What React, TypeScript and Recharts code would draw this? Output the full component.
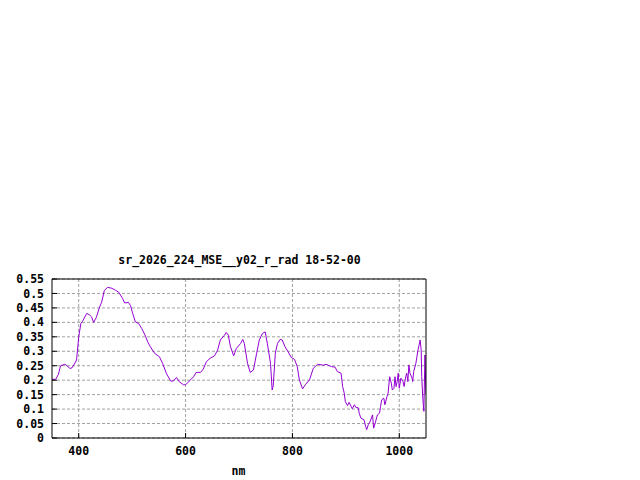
import React from "react";
import {
  LineChart,
  Line,
  XAxis,
  YAxis,
  CartesianGrid,
} from "recharts";

const title = "sr_2026_224_MSE__y02_r_rad 18-52-00";
const xLabel = "nm";

const wavelengths = [
  350, 357, 362, 366, 374, 379, 383, 387, 392, 396, 400, 404, 407, 415, 420,
  424, 428, 433, 439, 443, 448, 454, 462, 469, 475, 482, 486, 493, 497, 501,
  506, 512, 518, 525, 529, 534, 542, 551, 557, 564, 572, 577, 583, 588, 596,
  600, 607, 615, 620, 628, 633, 639, 646, 654, 660, 665, 673, 676, 680, 684,
  690, 695, 703, 707, 710, 716, 721, 727, 733, 738, 744, 749, 753, 759, 762,
  764, 768, 772, 777, 781, 786, 792, 798, 804, 809, 813, 819, 824, 832, 839,
  847, 858, 863, 873, 880, 884, 891, 894, 897, 899, 903, 906, 910, 912, 916,
  919, 923, 925, 928, 934, 937, 939, 942, 945, 950, 952, 955, 959, 963, 965,
  967, 971, 973, 977, 979, 982, 985, 987, 990, 992, 994, 996, 998, 1000, 1003,
  1007, 1009, 1012, 1014, 1016, 1018, 1020, 1024, 1025, 1027, 1031, 1033,
  1035, 1037, 1039, 1041, 1042, 1044, 1046, 1048, 1050,
];

const radiance = [
  0.203, 0.203, 0.22, 0.25, 0.255, 0.249, 0.241, 0.242, 0.256, 0.27, 0.35,
  0.396, 0.403, 0.431, 0.426, 0.419, 0.4, 0.417, 0.453, 0.47, 0.511, 0.521,
  0.518, 0.511, 0.504, 0.483, 0.467, 0.469, 0.458, 0.431, 0.402, 0.396, 0.379,
  0.352, 0.333, 0.316, 0.293, 0.281, 0.258, 0.224, 0.197, 0.197, 0.209, 0.195,
  0.184, 0.184, 0.197, 0.212, 0.227, 0.227, 0.238, 0.264, 0.276, 0.284, 0.304,
  0.339, 0.356, 0.365, 0.356, 0.316, 0.284, 0.31, 0.327, 0.341, 0.327, 0.258,
  0.227, 0.235, 0.293, 0.339, 0.362, 0.367, 0.327, 0.258, 0.166, 0.18, 0.293,
  0.327, 0.341, 0.339, 0.316, 0.298, 0.278, 0.272, 0.247, 0.201, 0.17, 0.184,
  0.201, 0.241, 0.255, 0.252, 0.255, 0.247, 0.245, 0.23, 0.224, 0.178, 0.155,
  0.126, 0.112, 0.123, 0.109, 0.101, 0.115, 0.105, 0.105, 0.086, 0.069, 0.063,
  0.04, 0.029, 0.046, 0.055, 0.08, 0.034, 0.052, 0.08, 0.086, 0.109, 0.132,
  0.138, 0.115, 0.143, 0.155, 0.212, 0.19, 0.166, 0.172, 0.212, 0.178, 0.195,
  0.224, 0.172, 0.207, 0.195, 0.178, 0.212, 0.224, 0.195, 0.253, 0.224, 0.207,
  0.195, 0.23, 0.258, 0.281, 0.304, 0.321, 0.339, 0.304, 0.212, 0.138, 0.092,
  0.287, 0.15,
];

const xTicks = [400, 600, 800, 1000];
const yTicks = [0, 0.05, 0.1, 0.15, 0.2, 0.25, 0.3, 0.35, 0.4, 0.45, 0.5, 0.55];

const data = wavelengths.map((nm, i) => ({ nm, value: radiance[i] }));

const FONT = "'DejaVu Sans Mono', monospace";
const tickStyle = {
  fontFamily: FONT,
  fontSize: 11.5,
  fontWeight: 700,
  fill: "#000",
};

const App = () => {
  return (
    <div
      style={{
        position: "absolute",
        left: 0,
        top: 0,
        width: 640,
        height: 480,
        background: "#fff",
      }}
    >
      {/* title */}
      <div
        style={{
          position: "absolute",
          left: 0,
          width: 479,
          top: 255,
          textAlign: "center",
          fontFamily: FONT,
          fontSize: 11.5,
          fontWeight: 700,
          lineHeight: "11.5px",
          whiteSpace: "pre",
        }}
      >
        {title}
      </div>

      <LineChart
        width={640}
        height={480}
        data={data}
        margin={{ top: 278, right: 213, bottom: 12, left: 0 }}
      >
        <CartesianGrid
          xAxisId='b'
          yAxisId='l'
          stroke='#a0a0a0'
          strokeDasharray='3 2'
          horizontalValues={yTicks}
          verticalValues={xTicks}
        />
        <XAxis
          xAxisId='b'
          dataKey='nm'
          type='number'
          domain={[350, 1050]}
          ticks={xTicks}
          interval={0}
          allowDataOverflow
          height={30}
          tickSize={-5}
          tickMargin={14}
          axisLine={{ stroke: "#000" }}
          tickLine={{ stroke: "#000" }}
          tick={tickStyle}
        />
        <XAxis
          xAxisId='t'
          orientation='top'
          dataKey='nm'
          type='number'
          domain={[350, 1050]}
          ticks={xTicks}
          interval={0}
          allowDataOverflow
          height={1}
          tickSize={-5}
          tick={false}
          axisLine={{ stroke: "#000" }}
          tickLine={{ stroke: "#000" }}
        />
        <YAxis
          yAxisId='l'
          type='number'
          domain={[0, 0.55]}
          ticks={yTicks}
          interval={0}
          allowDataOverflow
          width={52}
          tickSize={-5}
          tickMargin={13}
          axisLine={{ stroke: "#000" }}
          tickLine={{ stroke: "#000" }}
          tick={tickStyle}
        />
        <YAxis
          yAxisId='r'
          orientation='right'
          type='number'
          domain={[0, 0.55]}
          ticks={yTicks}
          interval={0}
          allowDataOverflow
          width={1}
          tickSize={-5}
          tick={false}
          axisLine={{ stroke: "#000" }}
          tickLine={{ stroke: "#000" }}
        />
        <Line
          xAxisId='b'
          yAxisId='l'
          type='linear'
          dataKey='value'
          stroke='#9400d3'
          strokeWidth={1}
          dot={false}
          isAnimationActive={false}
        />
      </LineChart>

      {/* x axis label */}
      <div
        style={{
          position: "absolute",
          left: 0,
          width: 477,
          top: 466,
          textAlign: "center",
          fontFamily: FONT,
          fontSize: 11.5,
          fontWeight: 700,
          lineHeight: "11.5px",
        }}
      >
        {xLabel}
      </div>
    </div>
  );
};

export default App;
